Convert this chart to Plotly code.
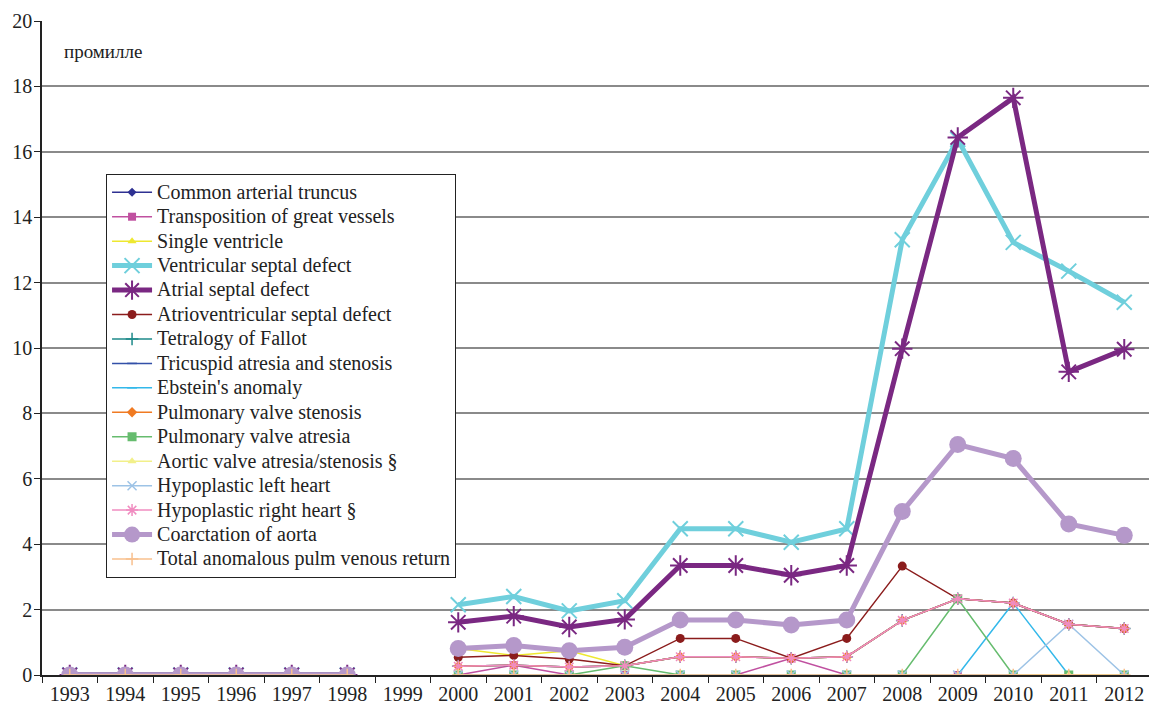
import plotly.graph_objects as go

years = ["1993", "1994", "1995", "1996", "1997", "1998", "1999", "2000", "2001", "2002",
         "2003", "2004", "2005", "2006", "2007", "2008", "2009", "2010", "2011", "2012"]

common_arterial_truncus = [0, 0, 0, 0, 0, 0, None, 0, 0, 0, 0, 0, 0, 0, 0, 0, 0, 0, 0, 0]
transposition = [0, 0, 0, 0, 0, 0, None, 0, 0.30, 0, 0, 0, 0, 0.51, 0, 0, 0, 0, 0, 0]
single_ventricle = [0, 0, 0, 0, 0, 0, None, 0.81, 0.60, 0.74, 0.28, 0.56, 0.56, 0.51, 0.56, 1.67, 2.33, 2.20, 1.55, 1.42]
vsd = [0, 0, 0, 0, 0, 0, None, 2.15, 2.40, 1.96, 2.27, 4.47, 4.47, 4.06, 4.47, 13.31, 16.38, 13.23, 12.35, 11.40]
asd = [0, 0, 0, 0, 0, 0, None, 1.61, 1.80, 1.47, 1.70, 3.35, 3.35, 3.05, 3.35, 9.98, 16.44, 17.65, 9.27, 9.96]
avsd = [0, 0, 0, 0, 0, 0, None, 0.54, 0.60, 0.49, 0.28, 1.12, 1.12, 0.51, 1.12, 3.33, 2.33, 2.20, 1.55, 1.42]
tetralogy = [0, 0, 0, 0, 0, 0, None, 0.27, 0.30, 0.245, 0.28, 0.56, 0.56, 0.51, 0.56, 1.67, 2.33, 2.20, 1.55, 1.42]
tricuspid = [0, 0, 0, 0, 0, 0, None, 0.27, 0.30, 0.245, 0.28, 0.56, 0.56, 0.51, 0.56, 1.67, 2.33, 2.20, 1.55, 1.42]
ebstein = [0, 0, 0, 0, 0, 0, None, 0, 0, 0, 0, 0, 0, 0, 0, 0, 0, 2.20, 0, 0]
pulm_stenosis = [0, 0, 0, 0, 0, 0, None, 0.27, 0.30, 0.245, 0.28, 0.56, 0.56, 0.51, 0.56, 1.67, 2.33, 2.20, 1.55, 1.42]
pulm_atresia = [0, 0, 0, 0, 0, 0, None, 0, 0, 0, 0.28, 0, 0, 0, 0, 0, 2.33, 0, 0, 0]
aortic_atresia = [0, 0, 0, 0, 0, 0, None, 0, 0, 0, 0, 0, 0, 0, 0, 0, 0, 0, 0, 0]
hlh = [0, 0, 0, 0, 0, 0, None, 0, 0, 0, 0, 0, 0, 0, 0, 0, 0, 0, 1.55, 0]
hrh = [0, 0, 0, 0, 0, 0, None, 0.27, 0.30, 0.245, 0.28, 0.56, 0.56, 0.51, 0.56, 1.67, 2.33, 2.20, 1.55, 1.42]
coarctation = [0, 0, 0, 0, 0, 0, None, 0.81, 0.90, 0.74, 0.85, 1.68, 1.68, 1.53, 1.68, 5.00, 7.05, 6.62, 4.62, 4.27]
tapvr = [0, 0, 0, 0, 0, 0, None, 0, 0, 0, 0, 0, 0, 0, 0, 0, 0, 0, 0, 0]

y_ticks = [0, 2, 4, 6, 8, 10, 12, 14, 16, 18, 20]

series = [
    ("Common arterial truncus", common_arterial_truncus, "#2E3192", 1.5, "diamond", 7, False),
    ("Transposition of great vessels", transposition, "#C050A0", 1.5, "square", 8, False),
    ("Single ventricle", single_ventricle, "#EEE830", 1.5, "triangle-up", 8, False),
    ("Ventricular septal defect", vsd, "#6FCFDC", 5, "x-thin-open", 15, True),
    ("Atrial septal defect", asd, "#7A2882", 5, "asterisk-open", 17, True),
    ("Atrioventricular septal defect", avsd, "#8B1C1C", 1.5, "circle", 9, False),
    ("Tetralogy of Fallot", tetralogy, "#1E8A8A", 1.5, "cross-thin-open", 9, True),
    ("Tricuspid atresia and stenosis", tricuspid, "#3350A8", 1.5, "line-ew-open", 7, True),
    ("Ebstein's anomaly", ebstein, "#33B8EA", 1.5, "line-ew-open", 7, True),
    ("Pulmonary valve stenosis", pulm_stenosis, "#F07A22", 1.5, "diamond", 8, False),
    ("Pulmonary valve atresia", pulm_atresia, "#66BC6E", 1.5, "square", 9, False),
    ("Aortic valve atresia/stenosis §", aortic_atresia, "#F2F08A", 1.5, "triangle-up", 8, False),
    ("Hypoplastic left heart", hlh, "#9DC3E6", 1.5, "x-thin-open", 9, True),
    ("Hypoplastic right heart §", hrh, "#F08CC0", 1.5, "asterisk-open", 10, True),
    ("Coarctation of aorta", coarctation, "#B598CA", 5, "circle", 17, False),
    ("Total anomalous pulm venous return", tapvr, "#F8C08E", 1.5, "cross-thin-open", 9, True),
]

FONT = "Liberation Serif, Times New Roman, serif"
TXT = "#222"

fig = go.Figure()
for name, vals, color, lw, sym, size, is_open in series:
    marker = dict(symbol=sym, size=size, color=color)
    if is_open:
        marker["line"] = dict(color=color, width=2 if lw > 3 else 1.5)
    else:
        marker["line"] = dict(width=0)
    fig.add_trace(go.Scatter(
        x=years, y=vals,
        name='<span style="font-size:20px">' + name + '</span>',
        mode="lines+markers",
        line=dict(color=color, width=lw), marker=marker,
        connectgaps=False,
    ))

fig.update_layout(
    width=1152, height=705,
    margin=dict(l=42, r=0, t=21, b=30),
    paper_bgcolor="white", plot_bgcolor="white",
    font=dict(family=FONT, size=19, color=TXT),
    showlegend=True,
    legend=dict(
        x=0.0577, y=0.766, xanchor="left", yanchor="top",
        bgcolor="white", bordercolor=TXT, borderwidth=1,
        font=dict(family=FONT, size=16.5, color=TXT),
        itemwidth=40, tracegroupgap=0,
    ),
    annotations=[dict(
        text="промилле", x=0.018, y=0.953, xref="paper", yref="paper",
        xanchor="left", yanchor="middle", showarrow=False,
        font=dict(family=FONT, size=19, color=TXT),
    )],
)
fig.update_xaxes(
    type="category", categoryorder="array", categoryarray=years,
    tickvals=years, ticktext=years,
    showgrid=False, showline=True, linecolor=TXT, linewidth=1.5,
    ticks="outside", tickson="boundaries", ticklen=6, tickcolor=TXT,
    tickfont=dict(family=FONT, size=20, color=TXT),
    zeroline=False, range=[-0.5, 19.5],
)
fig.update_yaxes(
    range=[0, 20], tickvals=y_ticks,
    showgrid=True, gridcolor="#8A8A8A", gridwidth=1.5,
    showline=True, linecolor=TXT, linewidth=1.5,
    ticks="outside", ticklen=6, tickcolor=TXT,
    tickfont=dict(family=FONT, size=20, color=TXT),
    ticklabelstandoff=-2,
    zeroline=False,
)

fig.write_html(
    "out.html",
    config={"displayModeBar": False},
    post_script="document.body.style.margin='0';document.body.style.overflow='hidden';",
)
